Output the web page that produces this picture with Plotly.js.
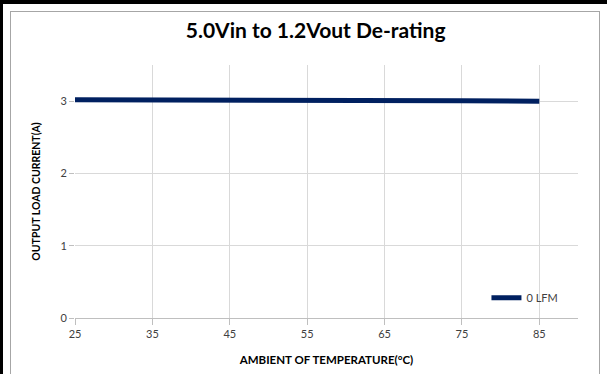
<!DOCTYPE html>
<html>
<head>
<meta charset="utf-8">
<script src="https://cdn.plot.ly/plotly-3.0.1.min.js"></script>
<style>
  html, body { margin: 0; padding: 0; width: 607px; height: 374px; overflow: hidden; background: #fff; }
  #topband { position: absolute; left: 0; top: 0; width: 607px; height: 4px; background: #000; }
  #leftband { position: absolute; left: 0; top: 0; width: 3px; height: 374px; background: #000; }
  #frame { position: absolute; left: 10px; top: 11px; width: 588px; height: 380px; border: 1px solid #a6a6a6; background: #fff; }
  #chart { position: absolute; left: 0; top: 0; width: 607px; height: 374px; }
</style>
</head>
<body>
<div id="topband"></div>
<div id="leftband"></div>
<div id="frame"></div>
<div id="chart"></div>
<script>
const temperatures = [25, 35, 45, 55, 65, 75, 85];
const current0LFM = [3.02, 3.02, 3.015, 3.01, 3.01, 3.005, 3.0];
const seriesName = "0 LFM";
const xTicks = [25, 35, 45, 55, 65, 75, 85];
const yTicks = [0, 1, 2, 3];

const font = "Lato, 'Open Sans', 'Liberation Sans', sans-serif";

const trace = {
  x: temperatures,
  y: current0LFM,
  type: "scatter",
  mode: "lines",
  name: seriesName,
  line: { color: "#002060", width: 5 }
};

const layout = {
  width: 607,
  height: 374,
  margin: { l: 75, r: 29, t: 65, b: 56 },
  paper_bgcolor: "rgba(0,0,0,0)",
  plot_bgcolor: "rgba(0,0,0,0)",
  title: {
    text: "<b>5.0Vin to 1.2Vout De-rating</b>",
    font: { family: font, size: 21, color: "#000" },
    x: 0.52, xanchor: "center",
    y: 0.918, yanchor: "middle", yref: "container"
  },
  showlegend: true,
  legend: {
    x: 0.818, y: 0.08, xanchor: "left", yanchor: "middle",
    bgcolor: "rgba(0,0,0,0)",
    font: { family: font, size: 11, color: "#404040" },
    itemwidth: 30
  },
  xaxis: {
    range: [25, 90],
    tickvals: xTicks,
    ticktext: xTicks.map(String),
    showgrid: true,
    gridcolor: "#d9d9d9",
    gridwidth: 1,
    zeroline: false,
    showline: true,
    linecolor: "#bfbfbf",
    ticks: "outside",
    ticklen: 6,
    tickcolor: "#bfbfbf",
    tickfont: { family: font, size: 11, color: "#404040" },
    title: {
      text: "<b>AMBIENT OF TEMPERATURE(°C)</b>",
      font: { family: font, size: 11.5, color: "#000" },
      standoff: 16
    }
  },
  yaxis: {
    range: [0, 3.5],
    tickvals: yTicks,
    ticktext: yTicks.map(String),
    showgrid: true,
    gridcolor: "#d9d9d9",
    gridwidth: 1,
    zeroline: false,
    showline: false,
    ticks: "outside",
    ticklen: 5,
    tickcolor: "#bfbfbf",
    tickfont: { family: font, size: 11, color: "#404040" },
    title: {
      text: "<b>OUTPUT LOAD CURRENT(A)</b>",
      font: { family: font, size: 10.5, color: "#000" },
      standoff: 17
    }
  }
};

Plotly.newPlot("chart", [trace], layout, { displayModeBar: false, staticPlot: true });
</script>
</body>
</html>
